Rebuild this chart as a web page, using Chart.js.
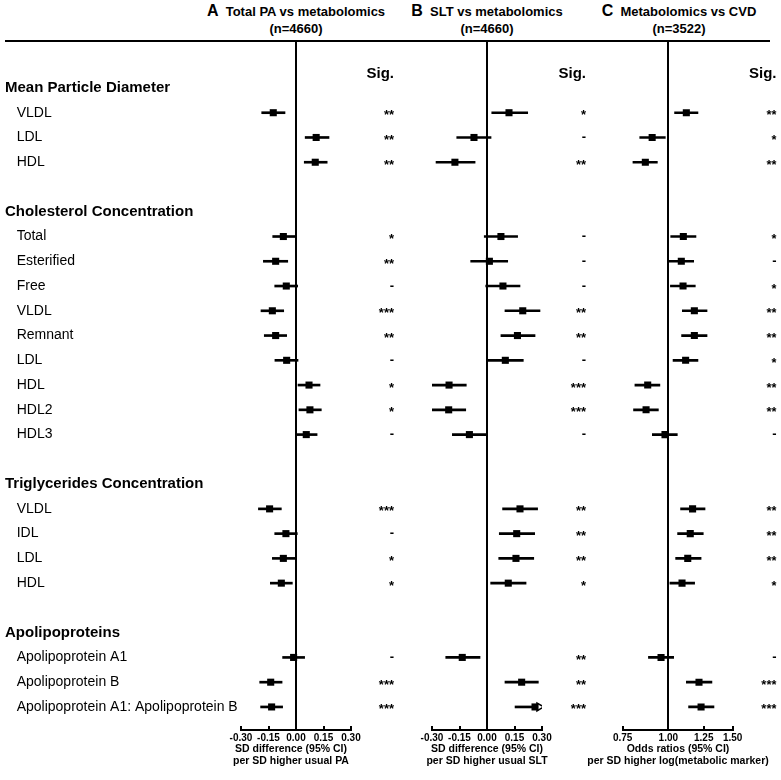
<!DOCTYPE html>
<html>
<head>
<meta charset="utf-8">
<script src="https://cdn.jsdelivr.net/npm/chart.js@4.4.0/dist/chart.umd.min.js"></script>
<style>
  body { margin: 0; background: #fff; width: 781px; height: 780px; position: relative; overflow: hidden; font-family: 'Liberation Sans', Arial, sans-serif; }
  canvas { position: absolute; top: 0; }
  .rule { position: absolute; left: 5px; width: 765px; top: 40px; height: 2px; background: #000; }
  .ptitle { position: absolute; top: 2px; width: 300px; text-align: center; font-weight: bold; font-size: 13px; line-height: 17px; color: #000; }
  .ptitle .big { font-size: 16px; }
  .xtitle { position: absolute; top: 743px; width: 240px; text-align: center; font-weight: bold; font-size: 10.5px; line-height: 11.5px; color: #000; white-space: nowrap; }
</style>
</head>
<body>
<div class="rule"></div>
<div class="ptitle" style="left:146px"><span class="big">A</span>&nbsp; Total PA vs metabolomics<br>(n=4660)</div>
<div class="ptitle" style="left:337px"><span class="big">B</span>&nbsp; SLT vs metabolomics<br>(n=4660)</div>
<div class="ptitle" style="left:529px"><span class="big">C</span>&nbsp; Metabolomics vs CVD<br>(n=3522)</div>
<canvas id="chartA" width="400" height="780" style="left:0"></canvas>
<canvas id="chartB" width="200" height="780" style="left:400px"></canvas>
<canvas id="chartC" width="181" height="780" style="left:600px"></canvas>
<div class="xtitle" style="left:171px">SD difference (95% CI)<br>per SD higher usual PA</div>
<div class="xtitle" style="left:367px">SD difference (95% CI)<br>per SD higher usual SLT</div>
<div class="xtitle" style="left:558px">Odds ratios (95% CI)<br>per SD higher log(metabolic marker)</div>
<script>
Chart.defaults.font.family = "'Liberation Sans', Arial, sans-serif";
Chart.defaults.color = '#000';

// rows of the forest plot (blank strings are spacer rows)
const rowLabels = [
  'Mean Particle Diameter', 'VLDL', 'LDL', 'HDL', '',
  'Cholesterol Concentration', 'Total', 'Esterified', 'Free', 'VLDL', 'Remnant', 'LDL', 'HDL', 'HDL2', 'HDL3', '',
  'Triglycerides Concentration', 'VLDL', 'IDL', 'LDL', 'HDL', '',
  'Apolipoproteins', 'Apolipoprotein A1', 'Apolipoprotein B', 'Apolipoprotein A1: Apolipoprotein B'
];
const headerRows = [0, 5, 16, 22];
const dataRows = [1, 2, 3, 6, 7, 8, 9, 10, 11, 12, 13, 14, 17, 18, 19, 20, 23, 24, 25];

// A: total PA vs metabolomics
const paEst  = [-0.124, 0.110, 0.105, -0.069, -0.111, -0.053, -0.129, -0.111, -0.051, 0.071, 0.076, 0.056, -0.144, -0.055, -0.069, -0.080, -0.013, -0.138, -0.133];
const paLow  = [-0.187, 0.050, 0.045, -0.127, -0.178, -0.116, -0.191, -0.173, -0.115, 0.011, 0.016, 0.002, -0.205, -0.116, -0.129, -0.140, -0.073, -0.198, -0.193];
const paHigh = [-0.060, 0.180, 0.170, -0.005, -0.045, 0.009, -0.067, -0.051, 0.011, 0.131, 0.138, 0.115, -0.080, 0.007, -0.005, -0.020, 0.047, -0.076, -0.073];
const paSig  = ['**', '**', '**', '*', '**', '-', '***', '**', '-', '*', '*', '-', '***', '-', '*', '*', '-', '***', '***'];
const paTicks = [-0.30, -0.15, 0.00, 0.15, 0.30];

// B: SLT vs metabolomics
const sltEst  = [0.120, -0.071, -0.175, 0.076, 0.013, 0.087, 0.195, 0.166, 0.100, -0.207, -0.209, -0.096, 0.180, 0.162, 0.158, 0.116, -0.135, 0.189, 0.262];
const sltLow  = [0.026, -0.165, -0.278, -0.015, -0.089, -0.007, 0.098, 0.076, 0.004, -0.302, -0.304, -0.189, 0.085, 0.067, 0.064, 0.020, -0.225, 0.098, 0.153];
const sltHigh = [0.222, 0.022, -0.065, 0.167, 0.113, 0.180, 0.289, 0.262, 0.198, -0.113, -0.116, -0.002, 0.276, 0.260, 0.255, 0.213, -0.038, 0.280, 0.360];
const sltSig  = ['*', '-', '**', '-', '-', '-', '**', '**', '-', '***', '***', '-', '**', '**', '**', '*', '**', '**', '***'];
const sltTicks = [-0.30, -0.15, 0.00, 0.15, 0.30];

// C: metabolomics vs CVD (odds ratios)
const cvdEst  = [1.120, 0.903, 0.865, 1.099, 1.085, 1.097, 1.178, 1.178, 1.115, 0.878, 0.869, 0.979, 1.165, 1.148, 1.130, 1.090, 0.955, 1.213, 1.229];
const cvdLow  = [1.040, 0.835, 0.800, 1.015, 1.006, 1.013, 1.092, 1.087, 1.030, 0.810, 0.803, 0.904, 1.080, 1.060, 1.047, 1.010, 0.882, 1.120, 1.136];
const cvdHigh = [1.205, 0.981, 0.933, 1.190, 1.173, 1.185, 1.276, 1.276, 1.205, 0.948, 0.939, 1.058, 1.260, 1.246, 1.229, 1.180, 1.034, 1.316, 1.333];
const cvdSig  = ['**', '*', '**', '*', '-', '*', '**', '**', '*', '**', '**', '-', '**', '**', '**', '*', '-', '***', '***'];
const cvdTicks = [0.75, 1.00, 1.25, 1.50];

const yMin = -1.856, yMax = 25.931, sigRow = -0.56;

function forestChart(canvasId, p) {
  const xMin = p.ticks[0], xMax = p.ticks[p.ticks.length - 1];
  const bars = dataRows.map((r, i) => ({ y: r, x: [p.low[i], Math.min(p.high[i], xMax)] }));
  const squares = dataRows.map((r, i) => ({ x: p.est[i], y: r }));
  const arrows = dataRows.filter((r, i) => p.high[i] > xMax).map(r => ({ x: xMax - 0.015, y: r }));

  return new Chart(document.getElementById(canvasId), {
    type: 'scatter',
    data: {
      datasets: [
        { type: 'scatter', data: squares, pointStyle: 'rect', pointRadius: 5, backgroundColor: '#000', borderWidth: 0, xAxisID: 'x', yAxisID: 'y', order: 0 },
        { type: 'scatter', data: arrows, pointStyle: 'triangle', rotation: 90, pointRadius: 4.5, backgroundColor: '#fff', borderColor: '#000', borderWidth: 1.5, xAxisID: 'x', yAxisID: 'y', order: 1 },
        { type: 'bar', indexAxis: 'y', data: bars, backgroundColor: '#000', barThickness: 2, borderWidth: 0, xAxisID: 'x', yAxisID: 'y', order: 2 }
      ]
    },
    options: {
      responsive: false,
      animation: false,
      events: [],
      layout: { padding: p.padding, autoPadding: false },
      plugins: { legend: { display: false }, tooltip: { enabled: false } },
      scales: {
        x: {
          type: p.log ? 'logarithmic' : 'linear',
          min: xMin, max: xMax, bounds: 'data', offset: false,
          afterBuildTicks: s => { s.ticks = p.ticks.map(v => ({ value: v })); },
          afterFit: s => { s.height = 50; },
          ticks: { callback: v => Number(v).toFixed(2), font: { size: 10, weight: 'bold' }, padding: 6, maxRotation: 0, autoSkip: false },
          grid: {
            offset: false,
            color: '#000',
            lineWidth: ctx => (ctx.tick && Math.abs(ctx.tick.value - p.ref) < 1e-9) ? 2 : 0,
            tickLength: -4, tickWidth: 2, tickColor: '#000'
          },
          border: { display: true, color: '#000', width: 2 },
          title: { display: false }
        },
        y: {
          type: 'linear', reverse: true, min: yMin, max: yMax, bounds: 'data', offset: false,
          display: p.labelWidth > 0,
          afterBuildTicks: s => { s.ticks = rowLabels.map((_, i) => ({ value: i })); },
          afterFit: s => { s.width = p.labelWidth; },
          grid: { display: false, offset: false },
          border: { display: false },
          ticks: {
            autoSkip: false, crossAlign: 'far', padding: 0,
            callback: v => headerRows.includes(Math.round(v)) ? rowLabels[Math.round(v)] : '   ' + rowLabels[Math.round(v)],
            font: ctx => headerRows.includes(ctx.index) ? { size: 15, weight: 'bold' } : { size: 14 }
          }
        },
        sig: {
          type: 'linear', position: 'right', reverse: true, min: yMin, max: yMax, bounds: 'data', offset: false,
          afterBuildTicks: s => {
            s.ticks = [{ value: sigRow }].concat(dataRows.map((r, i) => ({ value: r + (p.sig[i].includes('*') ? 0.12 : 0) })));
          },
          afterFit: s => { s.width = p.sigWidth; },
          grid: { display: false, offset: false },
          border: { display: false },
          ticks: {
            autoSkip: false, crossAlign: 'far', padding: 0,
            callback: (v, i) => i === 0 ? 'Sig.' : p.sig[i - 1],
            font: ctx => ctx.index === 0 ? { size: 15, weight: 'bold' } : { size: 13, weight: 'bold' }
          }
        }
      }
    }
  });
}

forestChart('chartA', {
  est: paEst, low: paLow, high: paHigh, sig: paSig, ticks: paTicks, ref: 0, log: false,
  labelWidth: 236, sigWidth: 43,
  padding: { left: 5, right: 6, top: 42, bottom: 0 }
});
forestChart('chartB', {
  est: sltEst, low: sltLow, high: sltHigh, sig: sltSig, ticks: sltTicks, ref: 0, log: false,
  labelWidth: 0, sigWidth: 44,
  padding: { left: 32, right: 14, top: 42, bottom: 0 }
});
forestChart('chartC', {
  est: cvdEst, low: cvdLow, high: cvdHigh, sig: cvdSig, ticks: cvdTicks, ref: 1, log: true,
  labelWidth: 0, sigWidth: 43.8,
  padding: { left: 22.7, right: 4.5, top: 42, bottom: 0 }
});
</script>
</body>
</html>
